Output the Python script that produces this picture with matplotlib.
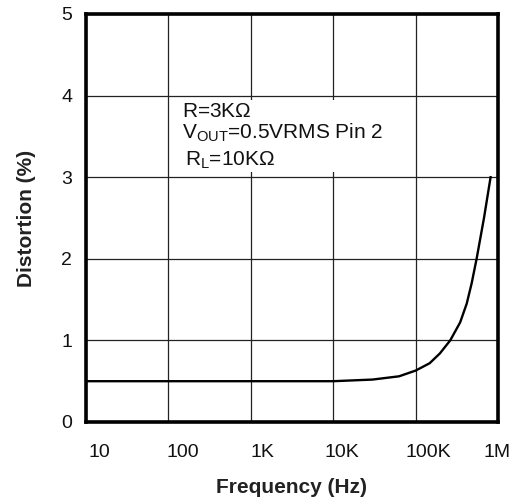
import matplotlib
matplotlib.use("Agg")
import matplotlib.pyplot as plt
import matplotlib.transforms as mtransforms
from matplotlib.patches import Rectangle

plt.rcParams['font.family'] = ['Liberation Sans', 'DejaVu Sans']
plt.rcParams['mathtext.fontset'] = 'custom'
plt.rcParams['mathtext.rm'] = 'Liberation Sans'
plt.rcParams['mathtext.it'] = 'Liberation Sans'

# data
freq_hz = [10, 100, 1000, 10000, 30000, 63000, 100000, 148000, 197000,
           263000, 347000, 417000, 479000, 550000, 676000, 813000]
distortion_pct = [0.50, 0.50, 0.50, 0.50, 0.52, 0.56, 0.63, 0.72, 0.84,
                  1.00, 1.22, 1.45, 1.70, 2.00, 2.50, 3.00]
x_ticks = [10, 100, 1000, 10000, 100000, 1000000]
x_tick_labels = ["10", "100", "1K", "10K", "100K", "1M"]
y_ticks = [0, 1, 2, 3, 4, 5]
annot_lines = [r"R=3K$\Omega$", r"V$_{\mathrm{OUT}}$=0.5VRMS Pin 2", r"R$_{\mathrm{L}}$=10K$\Omega$"]

W, H = 529, 503
L, R, T, B = 86, 498, 14, 422
fig = plt.figure(figsize=(W/100, H/100), dpi=100)
ax = fig.add_axes([L/W, 1-B/H, (R-L)/W, (B-T)/H])

ax.plot(freq_hz, distortion_pct, color='black', lw=1.7, zorder=4)
ax.set_xscale('log')
ax.set_xlim(10, 1e6)
ax.set_ylim(0, 5)
ax.set_xticks(x_ticks)
ax.set_xticklabels(x_tick_labels)
ax.minorticks_off()
ax.set_yticks(y_ticks)
ax.grid(True, color='#222222', lw=0.9, zorder=1)
ax.set_axisbelow(True)
ax.tick_params(length=0, labelsize=14, colors='#111111')
ax.tick_params(axis='x', pad=16)
ax.tick_params(axis='y', pad=10)
for s in ax.spines.values():
    s.set_linewidth(2.6)
    s.set_color('black')
    s.set_zorder(5)

offsets = [13, 14, 12, 9, 13, -1]
for lbl, dx in zip(ax.get_xticklabels(), offsets):
    lbl.set_transform(lbl.get_transform() + mtransforms.ScaledTranslation(dx/100, 0, fig.dpi_scale_trans))

ax.set_xlabel("Frequency (Hz)", fontsize=15, fontweight='bold', color='#222222', labelpad=12)
ax.set_ylabel("Distortion (%)", fontsize=15, fontweight='bold', color='#222222', labelpad=18)

# blank area behind the annotation (grid lines are interrupted there)
ax.add_patch(Rectangle((0.218, 0.613), 0.545, 0.175, transform=ax.transAxes,
                       facecolor='white', edgecolor='none', zorder=2))

xs = [0.233, 0.233, 0.240]
ys = [0.748, 0.694, 0.628]
for t, xx, yy in zip(annot_lines, xs, ys):
    ax.text(xx, yy, t, transform=ax.transAxes, fontsize=15, color='#111111',
            va='baseline', ha='left', zorder=3)

fig.savefig("out.png", dpi=100)
